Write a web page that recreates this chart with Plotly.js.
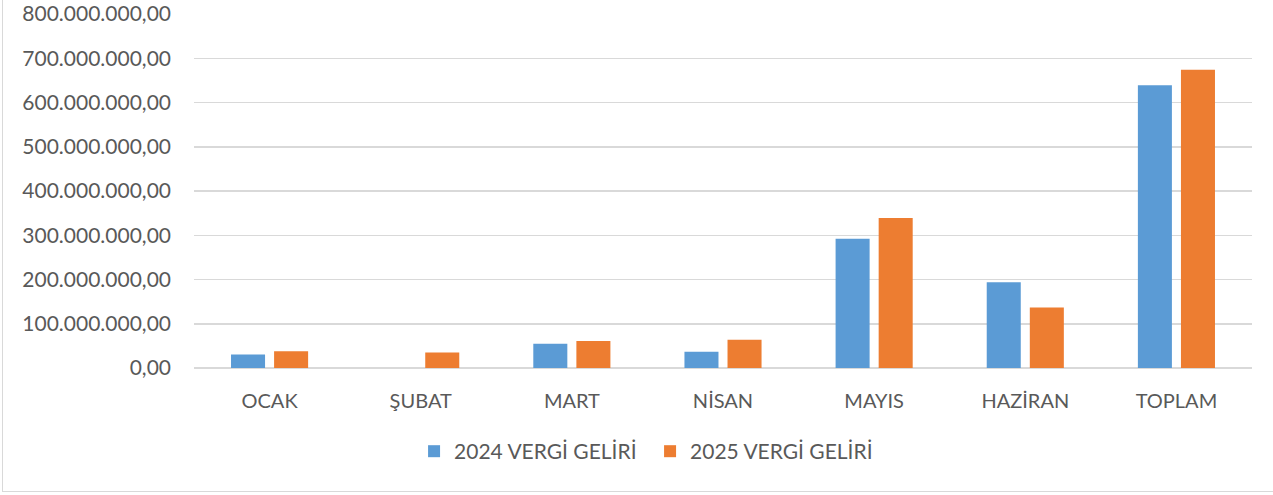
<!DOCTYPE html>
<html>
<head>
<meta charset="utf-8">
<script src="https://cdn.plot.ly/plotly-3.0.1.min.js"></script>
<style>
  html, body { margin: 0; padding: 0; background: #fff; }
  #wrap { position: relative; width: 1273px; height: 495px; overflow: hidden; }
  #chart { width: 1273px; height: 495px; }
  #frame { position: absolute; left: 2px; top: -5px; width: 1290px; height: 497px;
           border-left: 1.5px solid #d9d9d9; border-bottom: 1.5px solid #d9d9d9;
           box-sizing: border-box; pointer-events: none; }
</style>
</head>
<body>
<div id="wrap">
  <div id="chart"></div>
  <div id="frame"></div>
</div>
<script>
const categories = ["OCAK", "ŞUBAT", "MART", "NİSAN", "MAYIS", "HAZİRAN", "TOPLAM"];
const seriesNames = ["2024 VERGİ GELİRİ", "2025 VERGİ GELİRİ"];
const values2024 = [30500000, 0, 55000000, 37000000, 292000000, 194000000, 639000000];
const values2025 = [38000000, 35000000, 61000000, 64000000, 339000000, 137000000, 674000000];
const tickValues = [0, 100000000, 200000000, 300000000, 400000000, 500000000, 600000000, 700000000, 800000000];

const textColor = "#595959";
const fontFamily = "Lato, 'Open Sans', sans-serif";

const traces = [
  { type: "bar", name: seriesNames[0], x: categories, y: values2024,
    marker: { color: "#5B9BD5" }, hoverinfo: "x+y" },
  { type: "bar", name: seriesNames[1], x: categories, y: values2025,
    marker: { color: "#ED7D31" }, hoverinfo: "x+y" }
];

const layout = {
  width: 1273, height: 495,
  margin: { l: 194, r: 21, t: 14, b: 126.5 },
  paper_bgcolor: "rgba(0,0,0,0)",
  plot_bgcolor: "#fff",
  separators: ",.",
  barmode: "group",
  bargap: 0.43,
  bargroupgap: 0.21,
  font: { family: fontFamily, size: 20, color: textColor },
  xaxis: {
    type: "category",
    showgrid: false, showline: false, zeroline: false,
    ticks: "", ticklabelstandoff: 19,
    tickfont: { family: fontFamily, size: 20, color: textColor }
  },
  yaxis: {
    range: [0, 800000000],
    tickvals: tickValues,
    tickformat: ",.2f",
    showgrid: true, gridcolor: "#d9d9d9", gridwidth: 1.5,
    zeroline: true, zerolinecolor: "#d9d9d9", zerolinewidth: 1.5,
    showline: false, ticks: "", ticklabelstandoff: 22,
    tickfont: { family: fontFamily, size: 21, color: textColor }
  },
  showlegend: true,
  legend: {
    orientation: "h",
    x: 0.208, xanchor: "left",
    y: -0.236, yanchor: "middle",
    font: { family: fontFamily, size: 21, color: textColor },
    itemwidth: 30,
    entrywidth: 191, entrywidthmode: "pixels",
    traceorder: "normal",
    bgcolor: "rgba(0,0,0,0)"
  }
};

Plotly.newPlot("chart", traces, layout, { displayModeBar: false, staticPlot: true });
</script>
</body>
</html>
